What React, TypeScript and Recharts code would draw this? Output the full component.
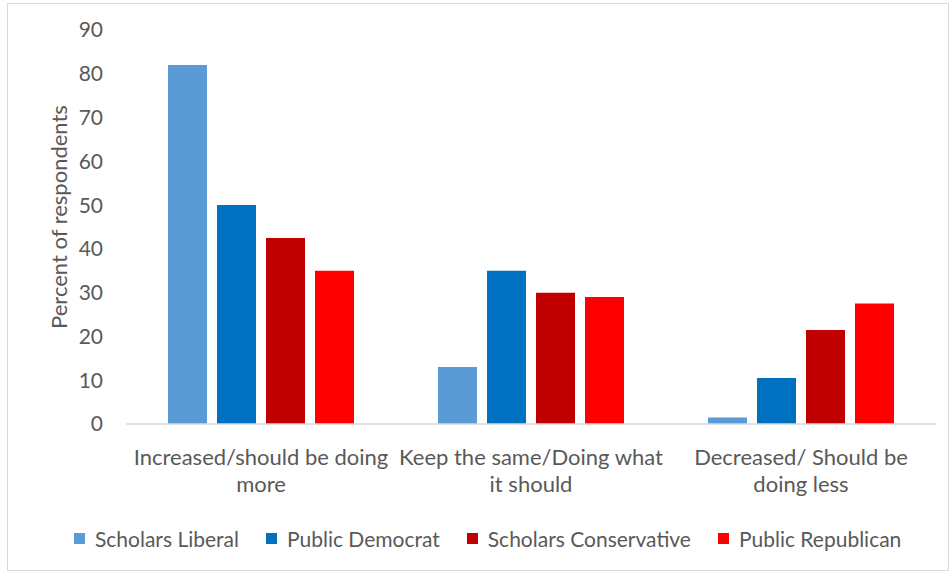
import React from 'react';
import { BarChart, Bar, XAxis, YAxis, Legend } from 'recharts';

const categories = [
  'Increased/should be doing\nmore',
  'Keep the same/Doing what\nit should',
  'Decreased/ Should be\ndoing less',
];

const scholarsLiberal = [82, 13, 1.5];
const publicDemocrat = [50, 35, 10.5];
const scholarsConservative = [42.5, 30, 21.5];
const publicRepublican = [35, 29, 27.5];

const yTicks = [0, 10, 20, 30, 40, 50, 60, 70, 80, 90];

const SERIES = [
  { key: 'scholarsLiberal', name: 'Scholars Liberal', color: '#5B9BD5' },
  { key: 'publicDemocrat', name: 'Public Democrat', color: '#0070C0' },
  { key: 'scholarsConservative', name: 'Scholars Conservative', color: '#C00000' },
  { key: 'publicRepublican', name: 'Public Republican', color: '#FF0000' },
];

const data = categories.map((category, i) => ({
  category,
  scholarsLiberal: scholarsLiberal[i],
  publicDemocrat: publicDemocrat[i],
  scholarsConservative: scholarsConservative[i],
  publicRepublican: publicRepublican[i],
}));

const FONT = 'Lato, "Open Sans", sans-serif';
const TEXT = '#595959';

// category labels are split on \n, like the two-line Excel labels
const CategoryTick = (props: any) => {
  const { x, y, payload } = props;
  const lines = String(payload.value).split('\n');
  return (
    <g>
      {lines.map((line, i) => (
        <text
          key={i}
          x={x}
          y={y + 41 + i * 27}
          textAnchor="middle"
          fill={TEXT}
          fontSize={22}
          fontFamily={FONT}
        >
          {line}
        </text>
      ))}
    </g>
  );
};

const LegendContent = (props: any) => {
  const payload = [...(props.payload || [])].sort(
    (a: any, b: any) =>
      SERIES.findIndex((s) => s.name === a.value) - SERIES.findIndex((s) => s.name === b.value)
  );
  return (
    <div style={{ display: 'flex', alignItems: 'center', fontFamily: FONT, fontSize: 21, color: TEXT }}>
      {payload.map((entry: any) => (
        <div key={entry.value} style={{ display: 'flex', alignItems: 'center', marginRight: 27 }}>
          <span style={{ display: 'inline-block', width: 11, height: 11, background: entry.color, marginRight: 10 }} />
          <span>{entry.value}</span>
        </div>
      ))}
    </div>
  );
};

const App: React.FC = () => {
  return (
    <div style={{ position: 'absolute', left: 0, top: 0, width: 952, height: 575, background: '#fff' }}>
      <div
        style={{
          position: 'absolute', left: 7, top: 3, width: 942, height: 568,
          border: '1px solid #d9d9d9', boxSizing: 'border-box',
        }}
      />
      <div style={{ position: 'absolute', left: 0, top: 0 }}>
        <BarChart
          width={952}
          height={575}
          data={data}
          margin={{ top: 30, right: 16, bottom: 51, left: 20 }}
          barSize={39}
          barGap={10}
        >
          <XAxis
            dataKey="category"
            height={100}
            axisLine={{ stroke: '#d9d9d9', strokeWidth: 1.5 }}
            tickLine={false}
            tickSize={0}
            tickMargin={0}
            interval={0}
            tick={<CategoryTick />}
          />
          <YAxis
            width={106}
            domain={[0, 90]}
            ticks={yTicks}
            interval={0}
            axisLine={false}
            tickLine={false}
            tickSize={0}
            tickMargin={23}
            tick={{ fill: TEXT, fontSize: 21, fontFamily: FONT }}
            label={{
              content: () => (
                <text
                  x={58}
                  y={217}
                  transform="rotate(-90 58 217)"
                  textAnchor="middle"
                  dominantBaseline="central"
                  fill={TEXT}
                  fontSize={22}
                  fontFamily={FONT}
                >
                  Percent of respondents
                </text>
              ),
            }}
          />
          <Legend
            verticalAlign="middle"
            layout="horizontal"
            itemSorter={null}
            wrapperStyle={{ top: 526, left: 74 }}
            content={<LegendContent />}
          />
          {SERIES.map((s) => (
            <Bar key={s.key} dataKey={s.key} name={s.name} fill={s.color} isAnimationActive={false} />
          ))}
        </BarChart>
      </div>
    </div>
  );
};

export default App;
